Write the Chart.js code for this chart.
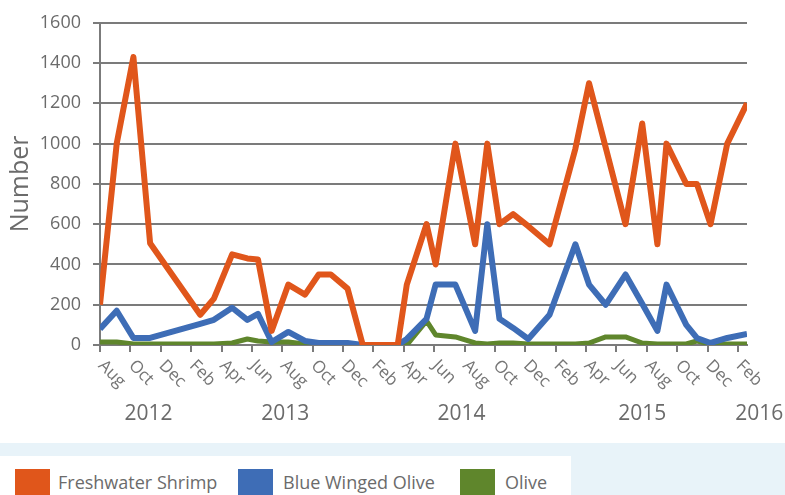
<!DOCTYPE html>
<html>
<head>
<meta charset="utf-8">
<script src="https://cdn.jsdelivr.net/npm/chart.js@4"></script>
<style>
    body { margin: 0; background: #fff; font-family: 'Open Sans', sans-serif; }
    #wrap { position: relative; width: 785px; height: 495px; overflow: hidden; }
    #band { position: absolute; left: 0; top: 443px; width: 785px; height: 52px; background: #e8f3f9; }
    #legendBox { position: absolute; left: 0; top: 456px; width: 571px; height: 39px; background: #fff; }
    .sw { position: absolute; top: 13px; width: 35px; height: 30px; }
    .lt { position: absolute; top: 14px; font-size: 18px; color: #6b6b6b; line-height: 24px; white-space: nowrap; }
</style>
</head>
<body>
<div id="wrap">
    <canvas id="chart" width="785" height="443"></canvas>
    <div id="band"></div>
    <div id="legendBox"></div>
</div>
<script>
// Provtagningstillfällen, månader räknat från aug 2012
const sampleMonths = [0, 1.1, 2.2, 3.3, 6.6, 7.5, 8.7, 9.7, 10.4, 11.3, 12.4, 13.5, 14.4, 15.2, 16.3, 17.3,
    19.6, 20.2, 21.5, 22.1, 23.4, 24.7, 25.5, 26.3, 27.2, 28.2, 29.6, 31.3, 32.2, 33.3, 34.6, 35.7,
    36.7, 37.3, 38.6, 39.3, 40.2, 41.3, 42.6]

const shrimp = [200, 1000, 1430, 505, 150, 230, 450, 430, 425, 70, 300, 250, 350, 350, 280, 0,
    0, 300, 600, 400, 1000, 500, 1000, 600, 650, 590, 500, 975, 1300, 980, 600, 1100,
    500, 1000, 800, 800, 600, 1000, 1200]

const blueWinged = [80, 170, 35, 35, 105, 125, 185, 125, 155, 15, 65, 20, 10, 10, 10, 0,
    0, 30, 130, 300, 300, 70, 600, 130, 85, 30, 150, 500, 300, 200, 350, 205,
    70, 300, 100, 35, 10, 35, 55]

const olive = [15, 15, 5, 5, 5, 5, 10, 30, 20, 15, 15, 5, 5, 5, 5, 0,
    0, 0, 120, 50, 40, 10, 5, 10, 10, 5, 5, 5, 10, 40, 40, 10,
    5, 5, 5, 20, 5, 5, 5]

const seriesNames = ['Freshwater Shrimp', 'Blue Winged Olive', 'Olive']
const seriesColors = ['#e0561b', '#3e6db6', '#5f862c']

// Etiketter för x-axeln (var annan månad) och årtal
const monthLabels = ['Aug', 'Oct', 'Dec', 'Feb', 'Apr', 'Jun', 'Aug', 'Oct', 'Dec', 'Feb', 'Apr',
    'Jun', 'Aug', 'Oct', 'Dec', 'Feb', 'Apr', 'Jun', 'Aug', 'Oct', 'Dec', 'Feb']
const yearLabels = ['2012', '2013', '2014', '2015', '2016']
const yearLabelMonths = [3.2, 12.2, 23.8, 35.7, 43.4]

const textGray = '#6b6b6b'
const gridGray = '#7b7b7b'

function toPoints(values) {
    return values.map((v, i) => ({ x: sampleMonths[i], y: v }))
}

// Ritar månads- och årsetiketter under x-axeln
const xLabelPlugin = {
    id: 'xLabels',
    afterDraw(chart) {
        const ctx = chart.ctx
        const xScale = chart.scales.x
        ctx.save()
        ctx.fillStyle = '#767676'
        ctx.font = '17px "Open Sans"'
        ctx.textAlign = 'left'
        ctx.textBaseline = 'middle'
        monthLabels.forEach((label, i) => {
            const x = xScale.getPixelForValue(i * 2)
            ctx.save()
            ctx.translate(x + 1, 363)
            ctx.rotate(Math.PI / 4)
            ctx.fillText(label, 0, 0)
            ctx.restore()
        })
        ctx.font = '21px "Open Sans"'
        ctx.textAlign = 'center'
        ctx.fillStyle = textGray
        yearLabels.forEach((label, i) => {
            ctx.fillText(label, xScale.getPixelForValue(yearLabelMonths[i]), 414)
        })
        ctx.restore()
    }
}

new Chart(document.getElementById('chart'), {
    type: 'line',
    data: {
        datasets: [shrimp, blueWinged, olive].map((values, i) => ({
            label: seriesNames[i],
            data: toPoints(values),
            borderColor: seriesColors[i],
            backgroundColor: seriesColors[i],
            borderWidth: i === 2 ? 5 : 6,
            borderJoinStyle: 'round',
            pointRadius: 0,
            tension: 0,
            fill: false
        }))
    },
    options: {
        responsive: false,
        animation: false,
        layout: { padding: { top: 20, right: 38, left: 0, bottom: 0 } },
        plugins: {
            legend: { display: false },
            tooltip: { enabled: false }
        },
        scales: {
            x: {
                type: 'linear',
                min: 0,
                max: 42.6,
                afterFit: (s) => { s.height = 98 },
                grid: {
                    drawOnChartArea: false,
                    drawTicks: true,
                    tickLength: 7,
                    color: gridGray,
                    lineWidth: 2
                },
                border: { color: gridGray, width: 2 },
                ticks: { stepSize: 2, includeBounds: false, display: false }
            },
            y: {
                min: 0,
                max: 1600,
                afterFit: (s) => { s.width = 100 },
                grid: {
                    color: gridGray,
                    lineWidth: 2,
                    tickLength: 7
                },
                border: { color: gridGray, width: 2 },
                ticks: {
                    stepSize: 200,
                    padding: 12,
                    color: textGray,
                    font: { family: 'Open Sans', size: 18 },
                    callback: (value) => String(value)
                },
                title: {
                    display: true,
                    text: 'Number',
                    color: textGray,
                    padding: { top: 6, bottom: 0 },
                    font: { family: 'Open Sans', size: 25 }
                }
            }
        }
    },
    plugins: [xLabelPlugin]
})

// Teckenförklaring i HTML
const legendBox = document.getElementById('legendBox')
const swatchLeft = [15, 238, 460]
const textLeft = [58, 283, 505]
seriesNames.forEach((name, i) => {
    const sw = document.createElement('div')
    sw.className = 'sw'
    sw.style.left = swatchLeft[i] + 'px'
    sw.style.background = seriesColors[i]
    legendBox.appendChild(sw)
    const t = document.createElement('div')
    t.className = 'lt'
    t.style.left = textLeft[i] + 'px'
    t.textContent = name
    legendBox.appendChild(t)
})
</script>
</body>
</html>
